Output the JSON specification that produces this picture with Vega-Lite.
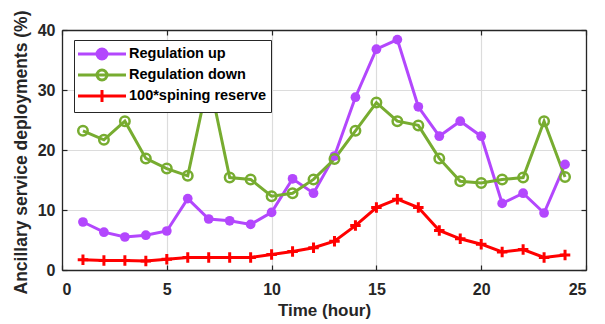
{
  "$schema": "https://vega.github.io/schema/vega-lite/v6.json",
  "width": 524,
  "height": 240,
  "autosize": "none",
  "padding": {"left": 62, "top": 30, "right": 19, "bottom": 54},
  "config": {
    "view": {"stroke": null},
    "font": "Liberation Sans",
    "axis": {
      "domainColor": "#262626",
      "domainWidth": 1.3,
      "tickColor": "#262626",
      "tickWidth": 1.2,
      "tickSize": -5,
      "labelFont": "Liberation Sans",
      "labelFontSize": 16,
      "labelFontWeight": "bold",
      "labelColor": "#262626",
      "titleFont": "Liberation Sans",
      "titleFontSize": 17,
      "titleFontWeight": "bold",
      "titleColor": "#262626",
      "gridColor": "#dcdcdc",
      "gridWidth": 1.2
    }
  },
  "data": {
    "values": [
      {"hour": 1, "series": "Regulation up", "value": 8.0},
      {"hour": 2, "series": "Regulation up", "value": 6.3},
      {"hour": 3, "series": "Regulation up", "value": 5.5},
      {"hour": 4, "series": "Regulation up", "value": 5.8},
      {"hour": 5, "series": "Regulation up", "value": 6.5},
      {"hour": 6, "series": "Regulation up", "value": 11.9},
      {"hour": 7, "series": "Regulation up", "value": 8.5},
      {"hour": 8, "series": "Regulation up", "value": 8.2},
      {"hour": 9, "series": "Regulation up", "value": 7.6},
      {"hour": 10, "series": "Regulation up", "value": 9.6},
      {"hour": 11, "series": "Regulation up", "value": 15.2},
      {"hour": 12, "series": "Regulation up", "value": 12.8},
      {"hour": 13, "series": "Regulation up", "value": 19.0},
      {"hour": 14, "series": "Regulation up", "value": 28.8},
      {"hour": 15, "series": "Regulation up", "value": 36.8},
      {"hour": 16, "series": "Regulation up", "value": 38.4},
      {"hour": 17, "series": "Regulation up", "value": 27.2},
      {"hour": 18, "series": "Regulation up", "value": 22.3},
      {"hour": 19, "series": "Regulation up", "value": 24.8},
      {"hour": 20, "series": "Regulation up", "value": 22.3},
      {"hour": 21, "series": "Regulation up", "value": 11.1},
      {"hour": 22, "series": "Regulation up", "value": 12.8},
      {"hour": 23, "series": "Regulation up", "value": 9.5},
      {"hour": 24, "series": "Regulation up", "value": 17.6},
      {"hour": 1, "series": "Regulation down", "value": 23.2},
      {"hour": 2, "series": "Regulation down", "value": 21.7},
      {"hour": 3, "series": "Regulation down", "value": 24.8},
      {"hour": 4, "series": "Regulation down", "value": 18.6},
      {"hour": 5, "series": "Regulation down", "value": 16.9},
      {"hour": 6, "series": "Regulation down", "value": 15.7},
      {"hour": 7, "series": "Regulation down", "value": 32.0},
      {"hour": 8, "series": "Regulation down", "value": 15.4},
      {"hour": 9, "series": "Regulation down", "value": 15.1},
      {"hour": 10, "series": "Regulation down", "value": 12.3},
      {"hour": 11, "series": "Regulation down", "value": 12.8},
      {"hour": 12, "series": "Regulation down", "value": 15.1},
      {"hour": 13, "series": "Regulation down", "value": 18.5},
      {"hour": 14, "series": "Regulation down", "value": 23.2},
      {"hour": 15, "series": "Regulation down", "value": 27.9},
      {"hour": 16, "series": "Regulation down", "value": 24.8},
      {"hour": 17, "series": "Regulation down", "value": 24.1},
      {"hour": 18, "series": "Regulation down", "value": 18.6},
      {"hour": 19, "series": "Regulation down", "value": 14.8},
      {"hour": 20, "series": "Regulation down", "value": 14.5},
      {"hour": 21, "series": "Regulation down", "value": 15.1},
      {"hour": 22, "series": "Regulation down", "value": 15.4},
      {"hour": 23, "series": "Regulation down", "value": 24.8},
      {"hour": 24, "series": "Regulation down", "value": 15.5},
      {"hour": 1, "series": "100*spining reserve", "value": 1.7},
      {"hour": 2, "series": "100*spining reserve", "value": 1.6},
      {"hour": 3, "series": "100*spining reserve", "value": 1.6},
      {"hour": 4, "series": "100*spining reserve", "value": 1.5},
      {"hour": 5, "series": "100*spining reserve", "value": 1.8},
      {"hour": 6, "series": "100*spining reserve", "value": 2.1},
      {"hour": 7, "series": "100*spining reserve", "value": 2.1},
      {"hour": 8, "series": "100*spining reserve", "value": 2.1},
      {"hour": 9, "series": "100*spining reserve", "value": 2.1},
      {"hour": 10, "series": "100*spining reserve", "value": 2.6},
      {"hour": 11, "series": "100*spining reserve", "value": 3.1},
      {"hour": 12, "series": "100*spining reserve", "value": 3.7},
      {"hour": 13, "series": "100*spining reserve", "value": 4.8},
      {"hour": 14, "series": "100*spining reserve", "value": 7.4},
      {"hour": 15, "series": "100*spining reserve", "value": 10.4},
      {"hour": 16, "series": "100*spining reserve", "value": 11.8},
      {"hour": 17, "series": "100*spining reserve", "value": 10.4},
      {"hour": 18, "series": "100*spining reserve", "value": 6.6},
      {"hour": 19, "series": "100*spining reserve", "value": 5.2},
      {"hour": 20, "series": "100*spining reserve", "value": 4.3},
      {"hour": 21, "series": "100*spining reserve", "value": 3.0},
      {"hour": 22, "series": "100*spining reserve", "value": 3.4},
      {"hour": 23, "series": "100*spining reserve", "value": 2.1},
      {"hour": 24, "series": "100*spining reserve", "value": 2.5}
    ]
  },
  "layer": [
    {
      "mark": {"type": "line", "strokeWidth": 3},
      "encoding": {
        "x": {
          "field": "hour", "type": "quantitative",
          "scale": {"domain": [0, 25], "nice": false},
          "axis": {"orient": "bottom", "values": [0, 5, 10, 15, 20, 25], "grid": true, "title": "Time (hour)", "labelPadding": 16, "titleY": 45.5, "titleBaseline": "alphabetic"}
        },
        "y": {
          "field": "value", "type": "quantitative",
          "scale": {"domain": [0, 40], "nice": false, "zero": true},
          "axis": {"orient": "left", "values": [0, 10, 20, 30, 40], "grid": true, "title": "Ancillary service deployments (%)", "labelPadding": 12, "titleX": -41, "titleY": 122, "titleBaseline": "middle", "titleAlign": "center", "titleAngle": 270, "titleFontSize": 17.5}
        },
        "color": {
          "field": "series", "type": "nominal",
          "scale": {"domain": ["Regulation up", "Regulation down", "100*spining reserve"], "range": ["#b347fd", "#77ac30", "#ff0000"]},
          "legend": {
            "orient": "none",
            "legendX": 12,
            "legendY": 10,
            "title": null,
            "padding": 4,
            "rowPadding": -9,
            "strokeColor": "#262626",
            "fillColor": "white",
            "labelFont": "Liberation Sans",
            "labelFontSize": 14.5,
            "labelFontWeight": "bold",
            "labelColor": "#000000",
            "labelOffset": 31,
            "symbolSize": 289,
            "symbolStrokeWidth": 3,
            "symbolType": "M-1.176,0H4.47",
            "encode": {
              "symbols": {
                "update": {
                  "shape": {"signal": "datum.value === '100*spining reserve' ? 'M-1.176,0H4.47M1.647,-0.7V0.7' : 'M-1.176,0H4.47M1.059,0A0.588,0.588 0 1,0 2.235,0A0.588,0.588 0 1,0 1.059,0'"},
                  "fill": {"signal": "datum.value === 'Regulation up' ? '#b347fd' : 'transparent'"},
                  "strokeWidth": {"value": 3},
                  "opacity": {"value": 1}
                }
              }
            }
          }
        }
      }
    },
    {
      "transform": [{"filter": "datum.series === 'Regulation up'"}],
      "mark": {"type": "point", "shape": "circle", "filled": true, "size": 95, "color": "#b347fd", "opacity": 1},
      "encoding": {
        "x": {"field": "hour", "type": "quantitative", "axis": null},
        "y": {"field": "value", "type": "quantitative", "axis": null}
      }
    },
    {
      "transform": [{"filter": "datum.series === 'Regulation down'"}],
      "mark": {"type": "point", "shape": "circle", "filled": false, "size": 90, "strokeWidth": 2.5, "color": "#77ac30", "opacity": 1},
      "encoding": {
        "x": {"field": "hour", "type": "quantitative", "axis": null},
        "y": {"field": "value", "type": "quantitative", "axis": null}
      }
    },
    {
      "transform": [{"filter": "datum.series === '100*spining reserve'"}],
      "mark": {"type": "point", "shape": "M-1,0H1M0,-1V1", "filled": false, "size": 110, "strokeWidth": 3, "color": "#ff0000", "opacity": 1},
      "encoding": {
        "x": {"field": "hour", "type": "quantitative", "axis": null},
        "y": {"field": "value", "type": "quantitative", "axis": null}
      }
    },
    {
      "mark": {"type": "point", "opacity": 0},
      "encoding": {
        "x": {"field": "hour", "type": "quantitative", "axis": {"orient": "top", "values": [0, 5, 10, 15, 20, 25], "labels": false, "grid": false, "title": null}},
        "y": {"field": "value", "type": "quantitative", "axis": {"orient": "right", "values": [0, 10, 20, 30, 40], "labels": false, "grid": false, "title": null}}
      }
    }
  ],
  "resolve": {"axis": {"x": "independent", "y": "independent"}}
}
